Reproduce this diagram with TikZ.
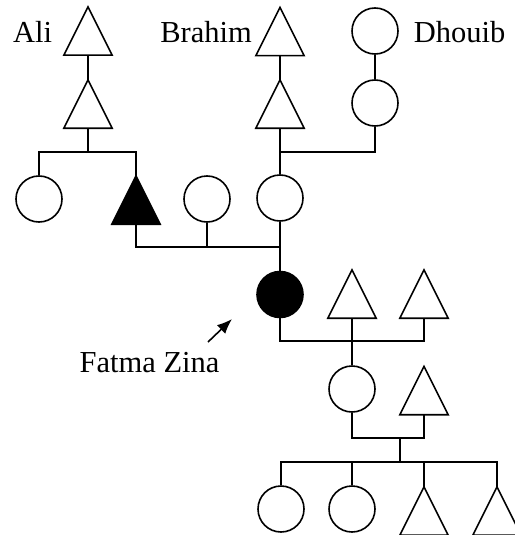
\documentclass[tikz,border=0pt]{standalone}
\usepackage{fontspec}
\setmainfont{Liberation Serif}
\usetikzlibrary{arrows.meta}
\tikzset{
  ln/.style={line width=1.6pt, line cap=butt},
  fem/.style={circle, draw, ln, minimum size=46pt, inner sep=0pt},
  femaff/.style={fem, fill=black},
  male/.style={rectangle, minimum width=48pt, minimum height=48pt, inner sep=0pt},
  lbl/.style={font=\fontsize{30.5}{36}\selectfont, anchor=base, inner sep=0pt},
}
\newcommand{\maletri}[2][]{\draw[ln,line join=miter,#1] (#2.north) -- (#2.south east) -- (#2.south west) -- cycle;}
\begin{document}
\begin{tikzpicture}[x=1pt,y=-1pt]
\useasboundingbox (0,0) rectangle (514,535);
% generation 1
\node[male] (a1) at (88,31) {};
\node[male] (b1) at (280,31.5) {};
\node[fem] (d1) at (375,31) {};
% generation 2
\node[male] (a2) at (88,104) {};
\node[male] (b2) at (280,104) {};
\node[fem] (d2) at (375,103) {};
% generation 3
\node[fem] (c1) at (39,199) {};
\node[male] (t3) at (136,200) {};
\node[fem] (c2) at (207,199) {};
\node[fem] (c3) at (280,198) {};
% generation 4
\node[femaff] (f) at (280,294.5) {};
\node[male] (s1) at (352,294) {};
\node[male] (s2) at (424,294) {};
% generation 5
\node[fem] (g1) at (352,389) {};
\node[male] (g2) at (424,390.5) {};
% generation 6
\node[fem] (k1) at (281,509) {};
\node[fem] (k2) at (352,509) {};
\node[male] (k3) at (424,511) {};
\node[male] (k4) at (497,511) {};
% triangles
\maletri{a1}\maletri{b1}\maletri{a2}\maletri{b2}
\maletri[fill=black]{t3}
\maletri{s1}\maletri{s2}\maletri{g2}\maletri{k3}\maletri{k4}
% junctions
\coordinate (j1) at (88,152);
\coordinate (j2) at (280,152);
\coordinate (j3) at (280,247);
\coordinate (j4) at (424,341);
\coordinate (j5) at (400,438);
\coordinate (j6) at (400,462);
% connectors
\draw[ln] (a1.south) -- (a2.north);
\draw[ln] (a2.south) -- (j1);
\draw[ln] (c1.north) |- (j1) -| (t3.north);
\draw[ln] (b1.south) -- (b2.north);
\draw[ln] (b2.south) -- (c3.north);
\draw[ln] (d1.south) -- (d2.north);
\draw[ln] (d2.south) |- (j2);
\draw[ln] (t3.south) |- (j3);
\draw[ln] (c2.south) -- (c2.south |- j3);
\draw[ln] (c3.south) -- (f.north);
\draw[ln] (f.south) |- (j4) -- (s2.south);
\draw[ln] (s1.south) -- (g1.north);
\draw[ln] (g1.south) |- (j5) -| (g2.south);
\draw[ln] (j5) -- (j6);
\draw[ln] (k1.north) |- (j6) -| (k4.north);
\draw[ln] (k2.north) -- (k2.north |- j6);
\draw[ln] (k3.north) -- (k3.north |- j6);
% labels
\node[lbl] (lali) at (32.5,43) {Ali};
\node[lbl] (lbra) at (206,43) {Brahim};
\node[lbl] (ldho) at (459.5,43) {Dhouib};
\node[lbl] (lfat) at (149.5,372) {Fatma Zina};
\coordinate (arS) at (208,342);
\coordinate (arE) at (232,319);
\draw[ln, -{Latex[length=15pt,width=12pt]}] (arS) -- (arE);
\end{tikzpicture}
\end{document}
